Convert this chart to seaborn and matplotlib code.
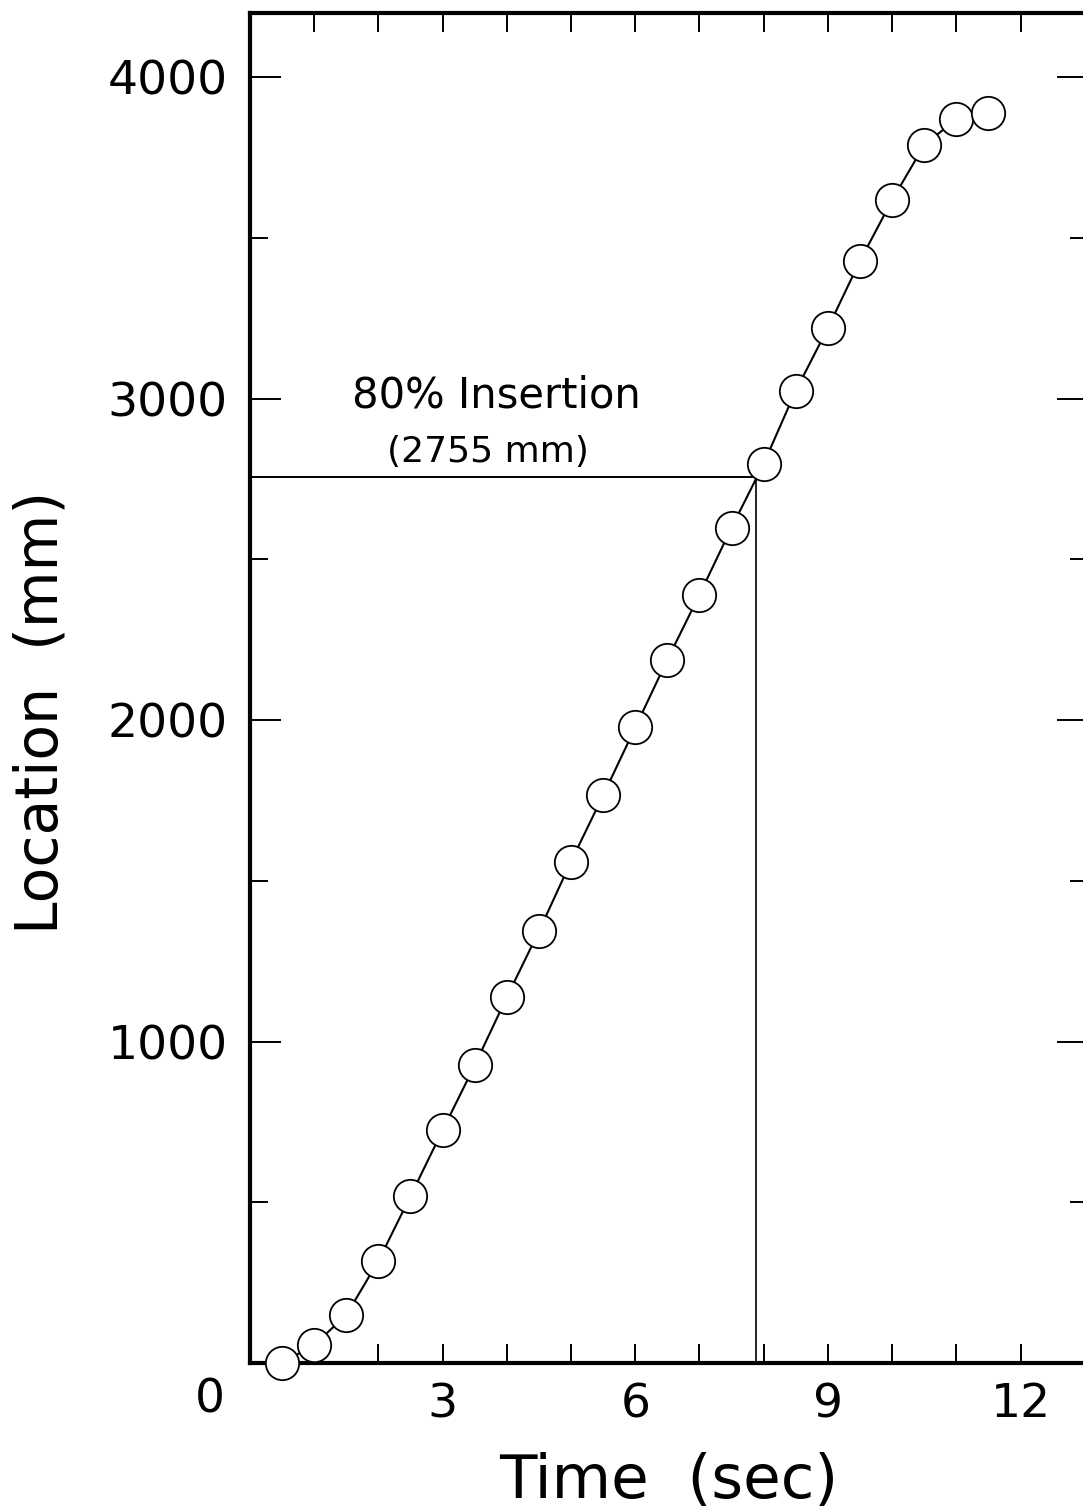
# Rod insertion: location vs time

import matplotlib
matplotlib.use("Agg")
import matplotlib.pyplot as plt
import seaborn as sns
import pandas as pd
from matplotlib.ticker import MultipleLocator

# data
time_s = [0.5, 1.0, 1.5, 2.0, 2.5, 3.0, 3.5, 4.0, 4.5, 5.0, 5.5, 6.0,
          6.5, 7.0, 7.5, 8.0, 8.5, 9.0, 9.5, 10.0, 10.5, 11.0, 11.5]
location_mm = [0, 56, 149, 317, 519, 724, 926, 1138, 1343, 1560, 1766, 1977,
               2188, 2390, 2599, 2798, 3025, 3220, 3429, 3618, 3789, 3870, 3889]

insert_level = 2755      # 80% insertion location
insert_time = 7.88       # time where 80% insertion is reached

x_ticks = [3, 6, 9, 12]
y_ticks = [1000, 2000, 3000, 4000]

df = pd.DataFrame({"Time": time_s, "Location": location_mm})

sns.set_style("ticks")
plt.rcParams["font.family"] = ["DejaVu Sans"]
plt.rcParams["text.color"] = "black"
plt.rcParams["axes.labelcolor"] = "black"
plt.rcParams["xtick.color"] = "black"
plt.rcParams["ytick.color"] = "black"

fig = plt.figure(figsize=(10.83, 15.10), dpi=100)
ax = fig.add_axes([0.2308, 0.0974, 0.7738, 0.8940])

# 80% insertion guide lines
ax.plot([0, insert_time], [insert_level, insert_level], color="black", lw=1.4, zorder=1)
ax.plot([insert_time, insert_time], [0, insert_level], color="black", lw=1.2, zorder=1)

sns.lineplot(data=df, x="Time", y="Location", ax=ax, color="black", lw=1.5,
             marker="o", markersize=24, markerfacecolor="white",
             markeredgecolor="black", markeredgewidth=1.3, clip_on=False, zorder=3)

ax.set_xlim(0, 13.05)
ax.set_ylim(0, 4200)
ax.set_xticks(x_ticks)
ax.set_xticklabels([str(v) for v in x_ticks])
ax.xaxis.set_minor_locator(MultipleLocator(1))
ax.set_yticks(y_ticks)
ax.set_yticklabels([str(v) for v in y_ticks])
ax.yaxis.set_minor_locator(MultipleLocator(500))

ax.tick_params(axis="both", which="both", direction="in", top=True, right=True,
               width=1.4, color="black", labelcolor="black")
ax.tick_params(axis="x", which="both", length=14, labelsize=34, pad=14)
ax.tick_params(axis="y", which="major", length=22, labelsize=34, pad=16)
ax.tick_params(axis="y", which="minor", length=13)

for side in ["left", "right", "top", "bottom"]:
    ax.spines[side].set_linewidth(3)
    ax.spines[side].set_color("black")

ax.set_xlabel("Time  (sec)", fontsize=44, labelpad=18)
ax.set_ylabel("Location  (mm)", fontsize=42)
ax.yaxis.set_label_coords(-0.215, 0.482)

# corner zero shared by both axes
fig.text(210 / 1083, 1 - 1400 / 1510, "0", fontsize=34, ha="center", va="center")

ax.text(3.84, 3010, "80% Insertion", fontsize=30, ha="center", va="center")
ax.text(3.70, 2835, "(2755 mm)", fontsize=26, ha="center", va="center")

fig.savefig("out.png", dpi=100)
